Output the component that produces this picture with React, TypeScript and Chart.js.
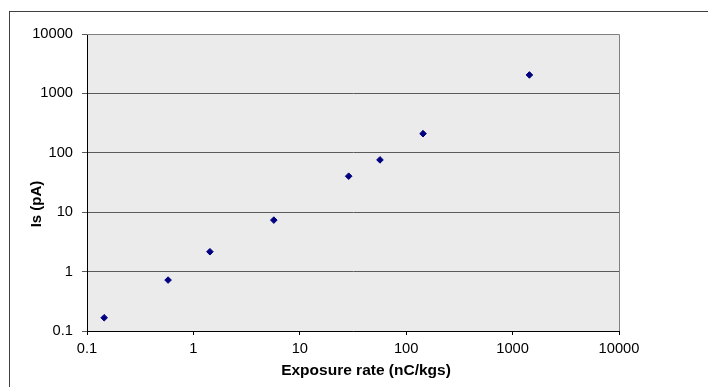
import React, { useEffect, useRef } from 'react';
import { Chart, registerables } from 'chart.js';

Chart.register(...registerables);

const exposureRate = [0.145, 0.578, 1.43, 5.7, 28.8, 56.7, 144, 1439];
const currentPA = [0.167, 0.72, 2.16, 7.36, 40.4, 76, 210, 2045];

const xTickValues = [0.1, 1, 10, 100, 1000, 10000];
const xTickLabels = ['0.1', '1', '10', '100', '1000', '10000'];
const yTickValues = [0.1, 1, 10, 100, 1000, 10000];
const yTickLabels = ['0.1', '1', '10', '100', '1000', '10000'];

const xAxisTitle = 'Exposure rate (nC/kgs)';
const yAxisTitle = 'Is (pA)';

const FONT = "'Liberation Sans', Arial, sans-serif";

export default function App() {
  const ref = useRef<HTMLCanvasElement>(null);

  useEffect(() => {
    if (!ref.current) return;

    const decorPlugin = {
      id: 'decor',
      beforeDraw(chart: any) {
        const { ctx, chartArea: a } = chart;
        ctx.save();
        ctx.fillStyle = '#ffffff';
        ctx.fillRect(0, 0, chart.width, chart.height);
        ctx.fillStyle = '#EBEBEB';
        ctx.fillRect(a.left, a.top, a.right - a.left, a.bottom - a.top);
        ctx.strokeStyle = '#404040';
        ctx.lineWidth = 1;
        ctx.strokeRect(9.5, 11.5, chart.width + 40, chart.height + 40);
        ctx.restore();
      },
      beforeDatasetsDraw(chart: any) {
        const { ctx, chartArea: a } = chart;
        ctx.save();
        ctx.strokeStyle = '#808080';
        ctx.lineWidth = 1;
        ctx.beginPath();
        const rx = Math.round(a.right) + 0.5;
        ctx.moveTo(a.left, Math.round(a.top) + 0.5);
        ctx.lineTo(rx, Math.round(a.top) + 0.5);
        ctx.lineTo(rx, a.bottom);
        ctx.stroke();
        ctx.restore();
      },
      afterDraw(chart: any) {
        const { ctx } = chart;
        ctx.save();
        ctx.fillStyle = '#000000';
        ctx.font = `bold 15.5px ${FONT}`;
        ctx.textAlign = 'center';
        ctx.textBaseline = 'alphabetic';
        ctx.fillText(xAxisTitle, 366, 375);
        ctx.translate(40.7, 204);
        ctx.rotate(-Math.PI / 2);
        ctx.font = `bold 15px ${FONT}`;
        ctx.fillText(yAxisTitle, 0, 0);
        ctx.restore();
      },
    };

    const chart = new Chart(ref.current, {
      type: 'scatter',
      data: {
        datasets: [
          {
            data: exposureRate.map((x, i) => ({ x, y: currentPA[i] })),
            pointStyle: 'rectRot',
            pointRadius: 3.3,
            pointBorderWidth: 1,
            backgroundColor: '#000080',
            borderColor: '#000080',
            showLine: false,
          },
        ],
      },
      options: {
        responsive: false,
        animation: false,
        devicePixelRatio: 1,
        layout: { padding: { left: 0, top: 34, right: 89, bottom: 0 } },
        plugins: {
          legend: { display: false },
          tooltip: { enabled: false },
        },
        scales: {
          x: {
            type: 'logarithmic',
            position: 'bottom',
            min: 0.1,
            max: 10000,
            afterBuildTicks: (scale: any) => {
              scale.ticks = xTickValues.map((v) => ({ value: v }));
            },
            afterFit: (scale: any) => {
              scale.height = 56;
            },
            ticks: {
              autoSkip: false,
              maxRotation: 0,
              padding: 5,
              color: '#000000',
              font: { family: FONT, size: 14.7 },
              callback: (_v: any, i: number) => xTickLabels[i],
            },
            grid: {
              display: true,
              drawOnChartArea: false,
              drawTicks: true,
              tickLength: 4,
              color: '#000000',
            },
            border: { display: true, color: '#000000', width: 1 },
            title: { display: false },
          },
          y: {
            type: 'logarithmic',
            position: 'left',
            min: 0.1,
            max: 10000,
            afterBuildTicks: (scale: any) => {
              scale.ticks = yTickValues.map((v) => ({ value: v }));
            },
            afterFit: (scale: any) => {
              scale.width = 87;
            },
            ticks: {
              autoSkip: false,
              padding: 9,
              color: '#000000',
              font: { family: FONT, size: 14.7 },
              callback: (_v: any, i: number) => yTickLabels[i],
            },
            grid: {
              display: true,
              drawOnChartArea: true,
              drawTicks: true,
              tickLength: 5,
              color: '#5a5a5a',
            },
            border: { display: true, color: '#000000', width: 1 },
            title: { display: false },
          },
        },
      },
      plugins: [decorPlugin],
    } as any);

    return () => chart.destroy();
  }, []);

  return (
    <div style={{ position: 'fixed', left: 0, top: 0, width: 708, height: 387 }}>
      <canvas ref={ref} width={708} height={387} style={{ display: 'block' }} />
    </div>
  );
}
